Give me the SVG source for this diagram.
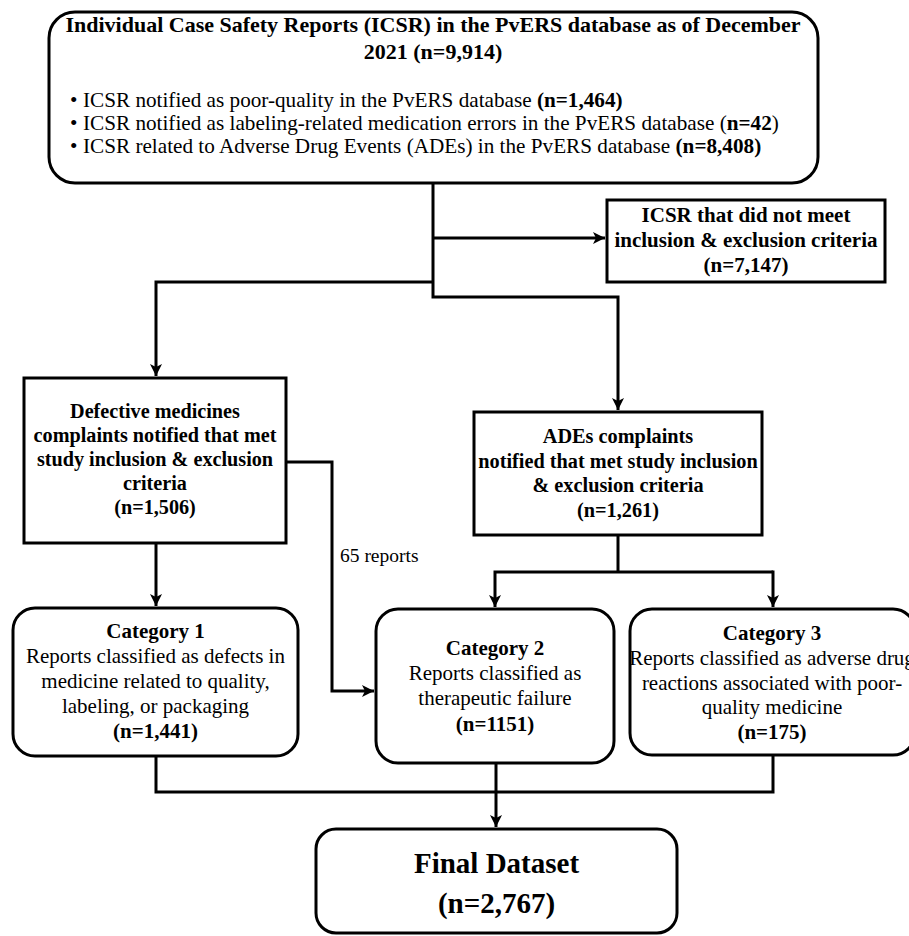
<svg xmlns="http://www.w3.org/2000/svg" width="909" height="936" viewBox="0 0 909 936">
<style>
text{font-family:"Liberation Serif","Times New Roman",serif;fill:#000}
.b{font-weight:bold}
.c{text-anchor:middle}
.box{fill:#fff;stroke:#000;stroke-width:3}
.con{fill:none;stroke:#000;stroke-width:3}
</style>
<defs>
<marker id="arr" markerUnits="userSpaceOnUse" markerWidth="14" markerHeight="14" refX="12" refY="6" orient="auto">
<path d="M0,0 L12,6 L0,12 L3,6 Z" fill="#000"/>
</marker>
</defs>
<rect width="909" height="936" fill="#fff"/>
<g id="connectors">
<path class="con" d="M433,183 V297 H618 V410" marker-end="url(#arr)"/>
<path class="con" d="M433,238 H605" marker-end="url(#arr)"/>
<path class="con" d="M433,282 H156 V376" marker-end="url(#arr)"/>
<path class="con" d="M156,543 V606" marker-end="url(#arr)"/>
<path class="con" d="M286,462 H332 V691 H374" marker-end="url(#arr)"/>
<path class="con" d="M618,535 V572"/>
<path class="con" d="M773,572 H495 V607" marker-end="url(#arr)"/>
<path class="con" d="M773,570.5 V607" marker-end="url(#arr)"/>
<path class="con" d="M156,756 V792 H773 V755"/>
<path class="con" d="M496,763 V827" marker-end="url(#arr)"/>
<text x="340" y="562" font-size="19.5">65 reports</text>
</g>
<g id="icsr">
<rect class="box" x="49" y="12" width="769" height="171" rx="26"/>
<text class="b c" x="433" y="32" font-size="22">Individual Case Safety Reports (ICSR) in the PvERS database as of December</text>
<text class="b c" x="433" y="59" font-size="22">2021 (n=9,914)</text>
<g font-size="21.2">
<text x="70" y="107">•</text>
<text x="83" y="107">ICSR notified as poor-quality in the PvERS database <tspan class="b">(n=1,464)</tspan></text>
<text x="70" y="130">•</text>
<text x="83" y="130">ICSR notified as labeling-related medication errors in the PvERS database (<tspan class="b">n=42</tspan>)</text>
<text x="70" y="153">•</text>
<text x="83" y="153">ICSR related to Adverse Drug Events (ADEs) in the PvERS database <tspan class="b">(n=8,408)</tspan></text>
</g>
</g>
<g id="excluded">
<rect class="box" x="607" y="200" width="278" height="82"/>
<g class="b c" font-size="21">
<text x="746" y="222">ICSR that did not meet</text>
<text x="746" y="247">inclusion &amp; exclusion criteria</text>
<text x="746" y="272">(n=7,147)</text>
</g>
</g>
<g id="defective">
<rect class="box" x="24" y="378" width="262" height="165"/>
<g class="b c" font-size="20.2">
<text x="155" y="418">Defective medicines</text>
<text x="155" y="442">complaints notified that met</text>
<text x="155" y="466">study inclusion &amp; exclusion</text>
<text x="155" y="490">criteria</text>
<text x="155" y="514">(n=1,506)</text>
</g>
</g>
<g id="ades">
<rect class="box" x="474" y="412" width="288" height="123"/>
<g class="b c" font-size="20.3">
<text x="618" y="443">ADEs complaints</text>
<text x="618" y="468">notified that met study inclusion</text>
<text x="618" y="492">&amp; exclusion criteria</text>
<text x="618" y="517">(n=1,261)</text>
</g>
</g>
<g id="cat1">
<rect class="box" x="13" y="608" width="285" height="148" rx="22"/>
<g class="c" font-size="21">
<text class="b" x="155.5" y="638">Category 1</text>
<text x="155.5" y="663">Reports classified as defects in</text>
<text x="155.5" y="688">medicine related to quality,</text>
<text x="155.5" y="713">labeling, or packaging</text>
<text class="b" x="155.5" y="738">(n=1,441)</text>
</g>
</g>
<g id="cat2">
<rect class="box" x="376" y="609" width="238" height="154" rx="22"/>
<g class="c" font-size="21">
<text class="b" x="495" y="655">Category 2</text>
<text x="495" y="680">Reports classified as</text>
<text x="495" y="705">therapeutic failure</text>
<text class="b" x="495" y="731">(n=1151)</text>
</g>
</g>
<g id="cat3">
<rect class="box" x="630" y="609" width="285" height="146" rx="22"/>
<g class="c" font-size="21">
<text class="b" x="772" y="640">Category 3</text>
<text x="772" y="665">Reports classified as adverse drug</text>
<text x="772" y="690">reactions associated with poor-</text>
<text x="772" y="714">quality medicine</text>
<text class="b" x="772" y="739">(n=175)</text>
</g>
</g>
<g id="final">
<rect class="box" x="316" y="829" width="361" height="104" rx="20"/>
<g class="b c" font-size="29">
<text x="496.5" y="873">Final Dataset</text>
<text x="496.5" y="913">(n=2,767)</text>
</g>
</g>
</svg>
